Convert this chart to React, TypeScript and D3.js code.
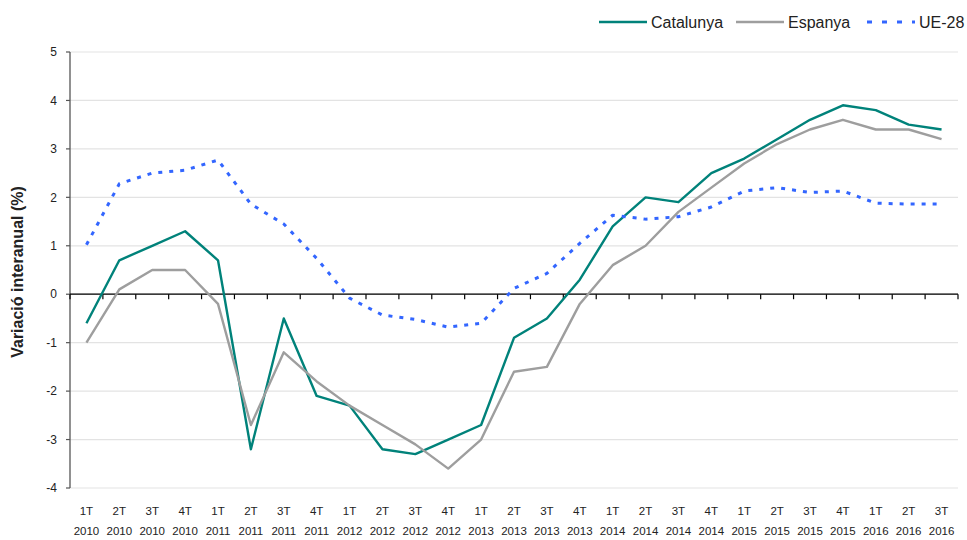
import * as d3 from "d3";

const quarters = ["1T", "2T", "3T", "4T", "1T", "2T", "3T", "4T", "1T", "2T", "3T", "4T", "1T", "2T", "3T", "4T", "1T", "2T", "3T", "4T", "1T", "2T", "3T", "4T", "1T", "2T", "3T"];
const years = ["2010", "2010", "2010", "2010", "2011", "2011", "2011", "2011", "2012", "2012", "2012", "2012", "2013", "2013", "2013", "2013", "2014", "2014", "2014", "2014", "2015", "2015", "2015", "2015", "2016", "2016", "2016"];

const catalunya = [-0.6, 0.7, 1.0, 1.3, 0.7, -3.2, -0.5, -2.1, -2.3, -3.2, -3.3, -3.0, -2.7, -0.9, -0.5, 0.3, 1.4, 2.0, 1.9, 2.5, 2.8, 3.2, 3.6, 3.9, 3.8, 3.5, 3.4];
const espanya = [-1.0, 0.1, 0.5, 0.5, -0.2, -2.7, -1.2, -1.8, -2.3, -2.7, -3.1, -3.6, -3.0, -1.6, -1.5, -0.2, 0.6, 1.0, 1.7, 2.2, 2.7, 3.1, 3.4, 3.6, 3.4, 3.4, 3.2];
const ue28 = [1.02, 2.28, 2.5, 2.56, 2.77, 1.86, 1.45, 0.74, -0.08, -0.43, -0.52, -0.68, -0.6, 0.12, 0.43, 1.05, 1.63, 1.55, 1.6, 1.8, 2.13, 2.2, 2.1, 2.13, 1.88, 1.86, 1.86];

const yTicks = [5, 4, 3, 2, 1, 0, -1, -2, -3, -4];

const W = 967;
const H = 540;
const left = 70;
const right = 958;
const top = 52;
const bottom = 488;
const font = "'Liberation Sans', Arial, sans-serif";

const series = [
  { name: "Catalunya", values: catalunya, color: "#00827a", dash: undefined as string | undefined, width: 2.4 },
  { name: "Espanya", values: espanya, color: "#9e9e9e", dash: undefined as string | undefined, width: 2.4 },
  { name: "UE-28", values: ue28, color: "#3366ff", dash: "4,7", width: 3 },
];

export default function App() {
  const idx = d3.range(quarters.length).map(String);
  const x = d3.scaleBand<string>().domain(idx).range([left, right]);
  const y = d3.scaleLinear().domain([-4, 5]).range([bottom, top]);
  const cx = (i: number) => (x(String(i)) as number) + x.bandwidth() / 2;

  const line = (vals: number[]) =>
    d3.line<number>().x((_, i) => cx(i)).y((v) => y(v))(vals) as string;

  const legendX = [599, 736, 867];

  return (
    <svg width={W} height={H} style={{ position: "absolute", left: 0, top: 0, background: "#fff" }} fontFamily={font}>
      {/* grid */}
      {yTicks.map((t) => (
        <line key={"g" + t} x1={left} x2={right} y1={y(t)} y2={y(t)} stroke="#e3e3e3" strokeWidth={1.2} />
      ))}
      {/* y axis */}
      <line x1={left} x2={left} y1={top} y2={bottom} stroke="#555" strokeWidth={1.3} />
      {yTicks.map((t) => (
        <g key={"t" + t}>
          <line x1={left - 4} x2={left} y1={y(t)} y2={y(t)} stroke="#555" strokeWidth={1.2} />
          <text x={left - 13} y={y(t)} dy="0.35em" textAnchor="end" fontSize={12} fill="#222">
            {t}
          </text>
        </g>
      ))}
      {/* zero line with category ticks */}
      <line x1={left} x2={right} y1={y(0)} y2={y(0)} stroke="#000" strokeWidth={1.3} />
      {d3.range(quarters.length + 1).map((i) => {
        const xx = left + i * x.bandwidth();
        return <line key={"c" + i} x1={xx} x2={xx} y1={y(0)} y2={y(0) + 5} stroke="#000" strokeWidth={1.2} />;
      })}
      {/* x labels */}
      {quarters.map((q, i) => (
        <text key={"q" + i} x={cx(i)} y={515} textAnchor="middle" fontSize={11.5} fill="#222">
          {q}
        </text>
      ))}
      {years.map((yr, i) => (
        <text key={"y" + i} x={cx(i)} y={535} textAnchor="middle" fontSize={11.5} fill="#222">
          {yr}
        </text>
      ))}
      {/* y title */}
      <text
        transform={`translate(23,${(top + bottom) / 2 + 2}) rotate(-90)`}
        textAnchor="middle"
        fontSize={16}
        fontWeight="bold"
        fill="#222"
      >
        Variació interanual (%)
      </text>
      {/* series */}
      {series.map((s) => (
        <path
          key={s.name}
          d={line(s.values)}
          fill="none"
          stroke={s.color}
          strokeWidth={s.width}
          strokeDasharray={s.dash}
          strokeLinejoin="round"
        />
      ))}
      {/* legend */}
      {series.map((s, i) => (
        <g key={"l" + s.name}>
          <line
            x1={legendX[i]}
            x2={legendX[i] + 48}
            y1={22}
            y2={22}
            stroke={s.color}
            strokeWidth={s.width}
            strokeDasharray={s.dash ? "5,10" : undefined}
          />
          <text x={legendX[i] + 52} y={22} dy="0.35em" fontSize={16} fill="#222">
            {s.name}
          </text>
        </g>
      ))}
    </svg>
  );
}
